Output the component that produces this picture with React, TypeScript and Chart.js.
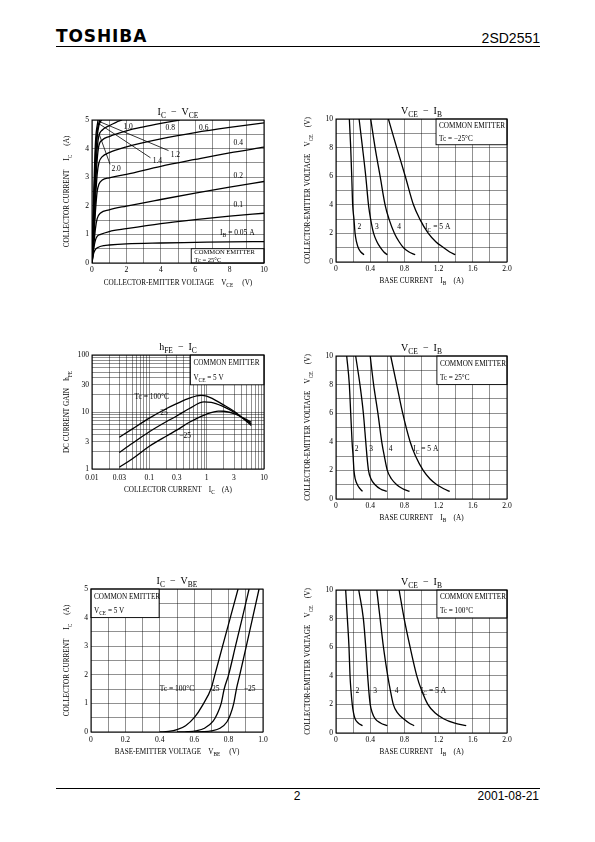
import React, { useEffect, useRef } from 'react';
import { Chart, registerables } from 'chart.js';
Chart.register(...registerables);

const SERIF = '"Liberation Serif", "Times New Roman", serif';

type Pt = [number, number];

// ---------- IC - VCE (Tc = 25°C) : [VCE (V), IC (A)] ----------
const icVce_IB005: Pt[] = [[0,0],[0.05,0.2],[0.1,0.35],[0.2,0.48],[0.4,0.56],[0.7,0.61],[1,0.63],[2,0.67],[4,0.7],[6,0.72],[8,0.74],[10,0.75]];
const icVce_IB01: Pt[] = [[0,0],[0.1,0.5],[0.2,0.8],[0.3,0.93],[0.5,1.0],[1,1.1],[2,1.2],[4,1.38],[6,1.52],[8,1.64],[10,1.74]];
const icVce_IB02: Pt[] = [[0,0],[0.1,0.6],[0.2,1.2],[0.3,1.55],[0.5,1.75],[1,1.86],[2,1.99],[4,2.22],[6,2.44],[8,2.65],[10,2.85]];
const icVce_IB04: Pt[] = [[0,0],[0.1,0.8],[0.2,1.8],[0.3,2.5],[0.4,2.75],[0.6,2.9],[1,2.98],[2,3.1],[4,3.38],[6,3.62],[8,3.85],[10,4.05]];
const icVce_IB06: Pt[] = [[0,0],[0.1,1.0],[0.2,2.2],[0.3,3.1],[0.4,3.5],[0.6,3.72],[1,3.86],[2,4.06],[4,4.34],[6,4.56],[8,4.74],[10,4.9]];
const icVce_IB08: Pt[] = [[0,0],[0.1,1.2],[0.2,2.6],[0.3,3.6],[0.4,4.1],[0.6,4.3],[1,4.42],[2,4.62],[3,4.76],[4,4.88],[5.1,5.0]];
const icVce_IB10: Pt[] = [[0,0],[0.1,1.5],[0.2,3.0],[0.3,4.0],[0.4,4.45],[0.6,4.65],[1,4.8],[1.4,4.92],[1.75,5.0]];
const icVce_IB12: Pt[] = [[0,0],[0.1,1.8],[0.2,3.5],[0.3,4.4],[0.4,4.8],[0.55,5.0]];
const icVce_IB14: Pt[] = [[0,0],[0.1,2.0],[0.2,3.8],[0.3,4.6],[0.45,5.0]];
const icVce_IB20: Pt[] = [[0,0],[0.1,2.4],[0.2,4.2],[0.35,5.0]];
const icVce_leader12: Pt[] = [[0.45,4.94],[4.45,3.93]];
const icVce_leader14: Pt[] = [[0.38,4.88],[3.4,3.68]];
const icVce_leader20: Pt[] = [[0.42,4.5],[1.05,3.45]];
const icVceXTicks = ['0','2','4','6','8','10'];
const icVceYTicks = ['0','1','2','3','4','5'];

// ---------- VCE - IB : [IB (A), VCE (V)] ----------
const vceIbM25_IC2: Pt[] = [[0.156,10],[0.172,8],[0.184,6],[0.195,4],[0.21,3],[0.223,2],[0.24,1.4],[0.26,1],[0.29,0.7],[0.328,0.51]];
const vceIbM25_IC3: Pt[] = [[0.27,10],[0.31,8],[0.348,6],[0.38,4],[0.405,3],[0.44,2],[0.48,1.4],[0.52,1],[0.56,0.7],[0.6,0.51]];
const vceIbM25_IC4: Pt[] = [[0.406,10],[0.457,8],[0.516,6],[0.574,4],[0.62,3],[0.684,2],[0.74,1.4],[0.79,1],[0.85,0.72],[0.926,0.51]];
const vceIbM25_IC5: Pt[] = [[0.613,10],[0.71,8],[0.81,6],[0.906,4],[0.98,3],[1.08,2],[1.17,1.4],[1.26,1],[1.33,0.7],[1.395,0.51]];

const vceIb25_IC2: Pt[] = [[0.125,10],[0.156,8],[0.172,6],[0.188,4],[0.2,3],[0.21,2],[0.225,1.4],[0.25,1],[0.28,0.72],[0.31,0.53]];
const vceIb25_IC3: Pt[] = [[0.23,10],[0.28,8],[0.32,6],[0.348,4],[0.362,3],[0.38,2],[0.41,1.4],[0.457,1],[0.52,0.7],[0.594,0.53]];
const vceIb25_IC4: Pt[] = [[0.4,10],[0.44,8],[0.49,6],[0.535,4],[0.565,3],[0.6,2],[0.65,1.4],[0.71,1],[0.78,0.72],[0.86,0.53]];
const vceIb25_IC5: Pt[] = [[0.64,10],[0.71,8],[0.78,6],[0.867,4],[0.93,3],[1.02,2],[1.1,1.4],[1.18,1],[1.26,0.72],[1.33,0.53]];

const vceIb100_IC2: Pt[] = [[0.113,10],[0.133,8],[0.152,6],[0.164,4],[0.175,3],[0.19,2],[0.205,1.4],[0.223,1],[0.26,0.7],[0.31,0.51]];
const vceIb100_IC3: Pt[] = [[0.266,10],[0.32,8],[0.348,6],[0.37,4],[0.383,3],[0.4,2],[0.425,1.4],[0.457,1],[0.52,0.7],[0.6,0.51]];
const vceIb100_IC4: Pt[] = [[0.477,10],[0.516,8],[0.555,6],[0.605,4],[0.635,3],[0.67,2],[0.72,1.4],[0.79,1],[0.85,0.72],[0.914,0.51]];
const vceIb100_IC5: Pt[] = [[0.738,10],[0.797,8],[0.867,6],[0.945,4],[1.0,3],[1.074,2],[1.16,1.4],[1.258,1],[1.38,0.7],[1.523,0.51]];

const vceIbXTicks = ['0','0.4','0.8','1.2','1.6','2.0'];
const vceIbYTicks = ['0','2','4','6','8','10'];

// ---------- hFE - IC : [IC (A), hFE] ----------
const hfe_Tc100: Pt[] = [[0.03,3.6],[0.05,5.0],[0.1,7.8],[0.2,11.5],[0.3,14],[0.5,17.5],[0.8,19.5],[1,19],[2,13.2],[3,10.3],[6,5.8]];
const hfe_Tc25: Pt[] = [[0.03,1.95],[0.05,2.8],[0.1,4.5],[0.2,6.8],[0.3,8.5],[0.5,11.5],[0.9,15],[1.2,14.8],[2,12.3],[3,9.9],[6,6.2]];
const hfe_TcM25: Pt[] = [[0.03,1.07],[0.05,1.5],[0.1,2.5],[0.2,3.8],[0.3,4.8],[0.5,6.6],[1,9.2],[1.6,10.4],[2,10.3],[3,9.4],[6,6.6]];
const hfeXTicks = ['0.01','0.03','0.1','0.3','1','3','10'];
const hfeYTicks = ['1','3','10','30','100'];

// ---------- IC - VBE : [VBE (V), IC (A)] ----------
const icVbe_Tc100: Pt[] = [[0.4,0],[0.45,0.02],[0.5,0.08],[0.55,0.22],[0.6,0.5],[0.65,0.95],[0.7,1.55],[0.72,2.0],[0.765,3.0],[0.81,4.0],[0.855,5.0]];
const icVbe_Tc25: Pt[] = [[0.5,0],[0.56,0.01],[0.61,0.04],[0.66,0.13],[0.71,0.38],[0.735,0.65],[0.757,1.0],[0.775,1.52],[0.8,2.0],[0.84,3.0],[0.88,4.0],[0.919,5.0]];
const icVbe_TcM25: Pt[] = [[0.6,0],[0.65,0.01],[0.7,0.04],[0.75,0.13],[0.79,0.35],[0.81,0.6],[0.83,1.0],[0.846,1.52],[0.865,2.0],[0.903,3.0],[0.94,4.0],[0.977,5.0]];
const icVbeXTicks = ['0','0.2','0.4','0.6','0.8','1.0'];
const icVbeYTicks = ['0','1','2','3','4','5'];

// ---------- types ----------
interface Label { x: number; y: number; t: string; align?: 'left' | 'center' | 'right' }
interface Box { x0: number; x1: number; y0: number; y1: number; lines: string[]; size?: number }
interface AxisSpec { type: 'linear' | 'logarithmic'; min: number; max: number; step?: number; labels: string[] }
interface Spec {
  plot: { l: number; t: number; w: number; h: number };
  title: string; xTitle: string; yTitle: string;
  yTitleOff: number; xLabelPad: number; xTitleOff: number;
  x: AxisSpec; y: AxisSpec;
  series: Pt[][]; leaders?: Pt[][];
  labels: Label[]; boxes: Box[];
}

function parseRich(s: string) {
  const segs: { t: string; sub: boolean }[] = [];
  const re = /_\{([^}]*)\}/g;
  let last = 0;
  let m: RegExpExecArray | null;
  while ((m = re.exec(s))) {
    if (m.index > last) segs.push({ t: s.slice(last, m.index), sub: false });
    segs.push({ t: m[1], sub: true });
    last = re.lastIndex;
  }
  if (last < s.length) segs.push({ t: s.slice(last), sub: false });
  return segs;
}

function drawRich(ctx: CanvasRenderingContext2D, s: string, x: number, y: number, size: number, align: 'left' | 'center' | 'right') {
  const segs = parseRich(s);
  const subSize = size * 0.75;
  let w = 0;
  const widths = segs.map((sg) => {
    ctx.font = `${sg.sub ? subSize : size}px ${SERIF}`;
    const ww = ctx.measureText(sg.t).width;
    w += ww;
    return ww;
  });
  let cx = align === 'center' ? x - w / 2 : align === 'right' ? x - w : x;
  ctx.textAlign = 'left';
  ctx.textBaseline = 'alphabetic';
  ctx.fillStyle = '#000';
  segs.forEach((sg, i) => {
    ctx.font = `${sg.sub ? subSize : size}px ${SERIF}`;
    ctx.fillText(sg.t, cx, y + (sg.sub ? size * 0.3 : 0));
    cx += widths[i];
  });
}

const PAD_L = 40, PAD_T = 18, PAD_R = 14, PAD_B = 30, YW = 14, XH = 12;
const AXIS_TITLE_SIZE = 7.2;

function labelFor(labels: string[], value: number) {
  const f = labels.find((l) => Math.abs(parseFloat(l) - value) <= 1e-6 * Math.max(1, Math.abs(value)));
  return f ?? '';
}

function axisOptions(a: AxisSpec, isX: boolean, pad: number) {
  const o: any = {
    type: a.type,
    min: a.min,
    max: a.max,
    ticks: {
      autoSkip: false,
      maxRotation: 0,
      minRotation: 0,
      padding: pad,
      color: '#000',
      font: { family: SERIF, size: 7.6 },
      callback: (v: any) => labelFor(a.labels, Number(v)),
    },
    grid: { color: 'rgba(0,0,0,0.62)', lineWidth: 0.7, drawTicks: false },
    border: { display: false },
    afterFit: (s: any) => {
      if (isX) s.height = XH; else s.width = YW;
    },
  };
  if (a.type === 'linear') {
    o.ticks.stepSize = a.step;
  } else {
    o.afterBuildTicks = (s: any) => {
      const vals: number[] = [];
      const e0 = Math.round(Math.log10(a.min));
      const e1 = Math.round(Math.log10(a.max));
      for (let e = e0; e < e1; e++) for (let m = 1; m < 10; m++) vals.push(+(m * Math.pow(10, e)).toPrecision(3));
      vals.push(a.max);
      s.ticks = vals.map((value) => ({ value }));
    };
  }
  return o;
}

function buildConfig(spec: Spec): any {
  const lineDs = (pts: Pt[], w: number, smooth: boolean) => ({
    data: pts.map(([x, y]) => ({ x, y })),
    borderColor: '#000',
    borderWidth: w,
    pointRadius: 0,
    fill: false,
    cubicInterpolationMode: smooth ? 'monotone' : 'default',
    tension: 0,
  });
  const datasets = [
    ...spec.series.map((s) => lineDs(s, 1.3, true)),
    ...(spec.leaders || []).map((s) => lineDs(s, 0.8, false)),
  ];
  const decor = {
    id: 'decor',
    beforeDatasetsDraw(chart: any) {
      const ctx: CanvasRenderingContext2D = chart.ctx;
      const xs = chart.scales.x, ys = chart.scales.y;
      ctx.save();
      spec.boxes.forEach((b) => {
        const l = xs.getPixelForValue(b.x0), r = xs.getPixelForValue(b.x1);
        const t = ys.getPixelForValue(b.y1), bt = ys.getPixelForValue(b.y0);
        ctx.fillStyle = '#fff';
        ctx.fillRect(l, t, r - l, bt - t);
        ctx.strokeStyle = '#000';
        ctx.lineWidth = 0.9;
        ctx.strokeRect(l, t, r - l, bt - t);
        const size = b.size ?? 7.2;
        const n = b.lines.length;
        const h = bt - t;
        b.lines.forEach((ln, i) => {
          const cy = t + (h * (i + 0.5)) / n;
          drawRich(ctx, ln, l + 3, cy + size * 0.33, size, 'left');
        });
      });
      ctx.restore();
    },
    afterDatasetsDraw(chart: any) {
      const ctx: CanvasRenderingContext2D = chart.ctx;
      const xs = chart.scales.x, ys = chart.scales.y;
      const ca = chart.chartArea;
      ctx.save();
      spec.labels.forEach((lb) => {
        const px = xs.getPixelForValue(lb.x), py = ys.getPixelForValue(lb.y);
        drawRich(ctx, lb.t, px, py + 7.5 * 0.33, 7.5, lb.align || 'center');
      });
      ctx.strokeStyle = '#000';
      ctx.lineWidth = 1;
      ctx.strokeRect(ca.left, ca.top, ca.right - ca.left, ca.bottom - ca.top);
      const cx = (ca.left + ca.right) / 2;
      const cy = (ca.top + ca.bottom) / 2;
      drawRich(ctx, spec.title, cx, ca.top - 5, 10, 'center');
      drawRich(ctx, spec.xTitle, cx, ca.bottom + spec.xTitleOff, AXIS_TITLE_SIZE, 'center');
      ctx.translate(ca.left - spec.yTitleOff + AXIS_TITLE_SIZE * 0.33, cy);
      ctx.rotate(-Math.PI / 2);
      drawRich(ctx, spec.yTitle, 0, 0, AXIS_TITLE_SIZE, 'center');
      ctx.restore();
    },
  };
  return {
    type: 'line',
    data: { datasets },
    options: {
      animation: false,
      responsive: false,
      maintainAspectRatio: false,
      events: [],
      layout: { padding: { left: PAD_L - YW, top: PAD_T, right: PAD_R, bottom: PAD_B - XH } },
      plugins: { legend: { display: false }, tooltip: { enabled: false }, title: { display: false } },
      scales: {
        x: axisOptions(spec.x, true, spec.xLabelPad),
        y: axisOptions(spec.y, false, 3),
      },
    },
    plugins: [decor],
  };
}

function Panel({ spec }: { spec: Spec }) {
  const ref = useRef<HTMLCanvasElement>(null);
  const W = spec.plot.w + PAD_L + PAD_R;
  const H = spec.plot.h + PAD_T + PAD_B;
  useEffect(() => {
    const chart = new Chart(ref.current as HTMLCanvasElement, buildConfig(spec));
    return () => chart.destroy();
  }, []);
  return (
    <canvas
      ref={ref}
      width={W}
      height={H}
      style={{ position: 'absolute', left: spec.plot.l - PAD_L, top: spec.plot.t - PAD_T, width: W, height: H }}
    />
  );
}

const specA: Spec = {
  plot: { l: 92, t: 120, w: 172, h: 143 },
  title: 'I_{C}  −  V_{CE}',
  xTitle: 'COLLECTOR-EMITTER VOLTAGE    V_{CE}     (V)',
  yTitle: 'COLLECTOR CURRENT     I_{C}     (A)',
  yTitleOff: 25, xLabelPad: 2, xTitleOff: 22,
  x: { type: 'linear', min: 0, max: 10, step: 1, labels: icVceXTicks },
  y: { type: 'linear', min: 0, max: 5, step: 0.5, labels: icVceYTicks },
  series: [icVce_IB005, icVce_IB01, icVce_IB02, icVce_IB04, icVce_IB06, icVce_IB08, icVce_IB10, icVce_IB12, icVce_IB14, icVce_IB20],
  leaders: [icVce_leader12, icVce_leader14, icVce_leader20],
  labels: [
    { x: 2.1, y: 4.77, t: '1.0' }, { x: 4.55, y: 4.72, t: '0.8' }, { x: 6.5, y: 4.72, t: '0.6' },
    { x: 8.5, y: 4.2, t: '0.4' }, { x: 8.5, y: 3.05, t: '0.2' }, { x: 8.5, y: 2.06, t: '0.1' },
    { x: 8.45, y: 1.08, t: 'I_{B} = 0.05 A' },
    { x: 4.85, y: 3.78, t: '1.2' }, { x: 3.8, y: 3.58, t: '1.4' }, { x: 1.4, y: 3.3, t: '2.0' },
  ],
  boxes: [{ x0: 5.77, x1: 10, y0: 0, y1: 0.5, lines: ['COMMON EMITTER', 'Tc = 25°C'], size: 6.6 }],
};

const vceIbSpec = (t: number, series: Pt[][], labels: Label[], box: Box, tc: string): Spec => ({
  plot: { l: 336, t, w: 171, h: 143 },
  title: 'V_{CE}  −  I_{B}',
  xTitle: 'BASE CURRENT    I_{B}    (A)',
  yTitle: 'COLLECTOR-EMITTER VOLTAGE    V_{CE}    (V)',
  yTitleOff: 28, xLabelPad: 2, xTitleOff: 21,
  x: { type: 'linear', min: 0, max: 2, step: 0.2, labels: vceIbXTicks },
  y: { type: 'linear', min: 0, max: 10, step: 1, labels: vceIbYTicks },
  series,
  labels,
  boxes: [{ ...box, lines: ['COMMON EMITTER', tc] }],
});

const specB = vceIbSpec(119, [vceIbM25_IC2, vceIbM25_IC3, vceIbM25_IC4, vceIbM25_IC5],
  [{ x: 0.273, y: 2.46, t: '2' }, { x: 0.478, y: 2.46, t: '3' }, { x: 0.738, y: 2.46, t: '4' }, { x: 1.19, y: 2.46, t: 'I_{C} = 5 A' }],
  { x0: 1.17, x1: 2, y0: 8.2, y1: 10, lines: [] }, 'Tc = −25°C');

const specD = vceIbSpec(356, [vceIb25_IC2, vceIb25_IC3, vceIb25_IC4, vceIb25_IC5],
  [{ x: 0.24, y: 3.5, t: '2' }, { x: 0.41, y: 3.5, t: '3' }, { x: 0.64, y: 3.5, t: '4' }, { x: 1.05, y: 3.5, t: 'I_{C} = 5 A' }],
  { x0: 1.18, x1: 2, y0: 8.0, y1: 10, lines: [] }, 'Tc = 25°C');

const specF = vceIbSpec(590, [vceIb100_IC2, vceIb100_IC3, vceIb100_IC4, vceIb100_IC5],
  [{ x: 0.25, y: 2.98, t: '2' }, { x: 0.457, y: 2.98, t: '3' }, { x: 0.71, y: 2.98, t: '4' }, { x: 1.14, y: 2.98, t: 'I_{C} = 5 A' }],
  { x0: 1.18, x1: 2, y0: 8.05, y1: 10, lines: [] }, 'Tc = 100°C');

const specC: Spec = {
  plot: { l: 92, t: 355, w: 172, h: 114 },
  title: 'h_{FE}  −  I_{C}',
  xTitle: 'COLLECTOR CURRENT    I_{C}    (A)',
  yTitle: 'DC CURRENT GAIN    h_{FE}',
  yTitleOff: 25, xLabelPad: 4, xTitleOff: 23,
  x: { type: 'logarithmic', min: 0.01, max: 10, labels: hfeXTicks },
  y: { type: 'logarithmic', min: 1, max: 100, labels: hfeYTicks },
  series: [hfe_Tc100, hfe_Tc25, hfe_TcM25],
  labels: [
    { x: 0.11, y: 18.6, t: 'Tc = 100°C' }, { x: 0.18, y: 9.7, t: '25' }, { x: 0.42, y: 3.85, t: '−25' },
  ],
  boxes: [{ x0: 0.52, x1: 10, y0: 30, y1: 100, lines: ['COMMON EMITTER', 'V_{CE} = 5 V'] }],
};

const specE: Spec = {
  plot: { l: 91, t: 589, w: 172, h: 143 },
  title: 'I_{C}  −  V_{BE}',
  xTitle: 'BASE-EMITTER VOLTAGE    V_{BE}     (V)',
  yTitle: 'COLLECTOR CURRENT     I_{C}     (A)',
  yTitleOff: 24, xLabelPad: 3, xTitleOff: 22,
  x: { type: 'linear', min: 0, max: 1, step: 0.1, labels: icVbeXTicks },
  y: { type: 'linear', min: 0, max: 5, step: 0.5, labels: icVbeYTicks },
  series: [icVbe_Tc100, icVbe_Tc25, icVbe_TcM25],
  labels: [
    { x: 0.5, y: 1.52, t: 'Tc = 100°C' }, { x: 0.725, y: 1.52, t: '25' }, { x: 0.923, y: 1.52, t: '−25' },
  ],
  boxes: [{ x0: 0, x1: 0.396, y0: 4.0, y1: 5, lines: ['COMMON EMITTER', 'V_{CE} = 5 V'] }],
};

export default function App() {
  const sans = '"Liberation Sans", Arial, sans-serif';
  return (
    <div style={{ position: 'absolute', left: 0, top: 0, width: 595, height: 842, background: '#fff', overflow: 'hidden' }}>
      <div style={{ position: 'absolute', left: 56, top: 28, fontFamily: '"DejaVu Sans", sans-serif', fontWeight: 700, fontSize: 17, lineHeight: '17px', letterSpacing: 0.9, color: '#000' }}>TOSHIBA</div>
      <div style={{ position: 'absolute', right: 55, top: 31, fontFamily: sans, fontSize: 14, lineHeight: '14px', color: '#000' }}>2SD2551</div>
      <div style={{ position: 'absolute', left: 56, top: 46, width: 484, height: 0, borderTop: '1px solid #000' }} />

      <Panel spec={specA} />
      <Panel spec={specB} />
      <Panel spec={specC} />
      <Panel spec={specD} />
      <Panel spec={specE} />
      <Panel spec={specF} />

      <div style={{ position: 'absolute', left: 56, top: 788, width: 484, height: 0, borderTop: '1px solid #000' }} />
      <div style={{ position: 'absolute', left: 287, width: 20, textAlign: 'center', top: 790, fontFamily: sans, fontSize: 12, lineHeight: '12px', color: '#000' }}>2</div>
      <div style={{ position: 'absolute', right: 56, top: 790, fontFamily: sans, fontSize: 12, lineHeight: '12px', color: '#000' }}>2001-08-21</div>
    </div>
  );
}
